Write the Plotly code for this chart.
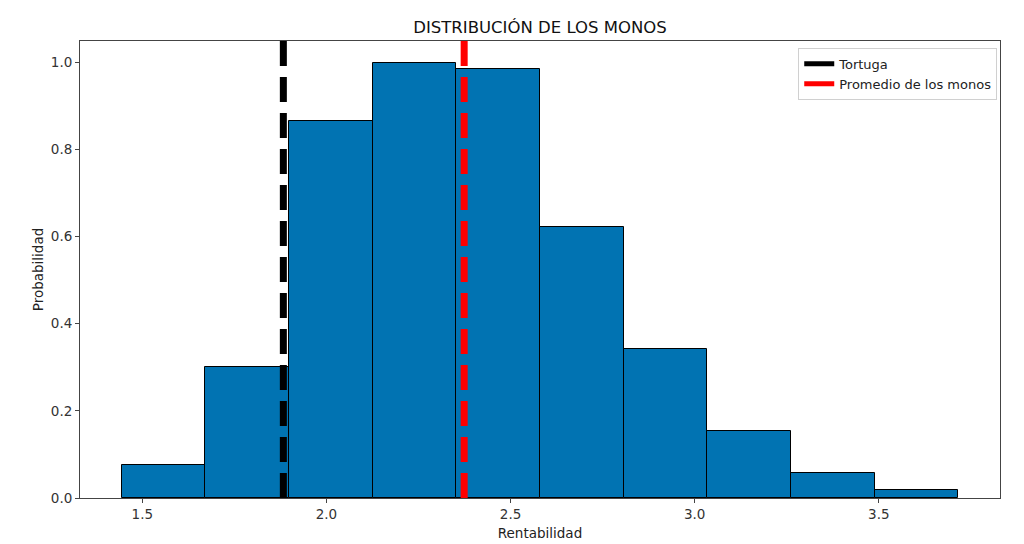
import plotly.graph_objects as go

# Data
bin_edges = [1.4444, 1.6715, 1.8986, 2.1257, 2.3528, 2.5799, 2.8070, 3.0341, 3.2612, 3.4883, 3.7154]
densities = [0.0756, 0.300, 0.866, 0.999, 0.985, 0.623, 0.341, 0.154, 0.058, 0.018]
tortuga = 1.883
promedio_monos = 2.374
x_ticks = [1.5, 2.0, 2.5, 3.0, 3.5]
y_ticks = [0.0, 0.2, 0.4, 0.6, 0.8, 1.0]

centers = [(a + b) / 2 for a, b in zip(bin_edges[:-1], bin_edges[1:])]
widths = [b - a for a, b in zip(bin_edges[:-1], bin_edges[1:])]

span = bin_edges[-1] - bin_edges[0]
x_range = [bin_edges[0] - 0.05 * span, bin_edges[-1] + 0.05 * span]
y_range = [0, max(densities) * 1.05]

font = "DejaVu Sans"
fig = go.Figure()
fig.add_trace(go.Bar(
    x=centers, y=densities, width=widths,
    marker=dict(color="#0173B2", line=dict(color="#000000", width=1)),
    showlegend=False, hoverinfo="x+y",
))
# legend-only entries (solid handles like matplotlib)
fig.add_trace(go.Scatter(x=[None], y=[None], mode="lines", name="Tortuga",
                         line=dict(color="black", width=5)))
fig.add_trace(go.Scatter(x=[None], y=[None], mode="lines", name="Promedio de los monos",
                         line=dict(color="red", width=5)))

fig.add_vline(x=tortuga, line=dict(color="black", width=7, dash="25px,11px"), layer="above")
fig.add_vline(x=promedio_monos, line=dict(color="red", width=7, dash="25px,11px"), layer="above")

fig.update_layout(
    width=1016, height=536,
    margin=dict(l=72, r=24, t=33, b=46),
    paper_bgcolor="white", plot_bgcolor="white",
    font=dict(family=font, size=13.5, color="#222222"),
    title=dict(text="DISTRIBUCIÓN DE LOS MONOS", x=0.5, xref="paper",
               y=1 - 19 / 536, yref="container", xanchor="center", yanchor="middle",
               font=dict(family=font, size=16.5, color="#111111")),
    bargap=0,
    legend=dict(x=0.997, y=0.985, xanchor="right", yanchor="top",
                bgcolor="rgba(255,255,255,0.9)", bordercolor="#d0d0d0", borderwidth=1,
                font=dict(family=font, size=13, color="#222222"),
                tracegroupgap=0, itemwidth=30),
)
fig.update_xaxes(
    range=x_range, tickvals=x_ticks, ticktext=[f"{v:.1f}" for v in x_ticks],
    showgrid=False, zeroline=False, showline=True, linecolor="#444444", linewidth=1,
    mirror=True, ticks="outside", ticklen=4, tickcolor="#444444", automargin=False,
    tickfont=dict(family=font, size=13.5, color="#333333"),
    title=dict(text="Rentabilidad", standoff=7, font=dict(family=font, size=13.5)),
)
fig.update_yaxes(
    range=y_range, tickvals=y_ticks, ticktext=[f"{v:.1f}" for v in y_ticks],
    showgrid=False, zeroline=False, showline=True, linecolor="#444444", linewidth=1,
    mirror=True, ticks="outside", ticklen=4, tickcolor="#444444", automargin=False,
    tickfont=dict(family=font, size=13.5, color="#333333"),
    title=dict(text="Probabilidad", standoff=4, font=dict(family=font, size=13.5)),
)

fig.write_html("out.html")
